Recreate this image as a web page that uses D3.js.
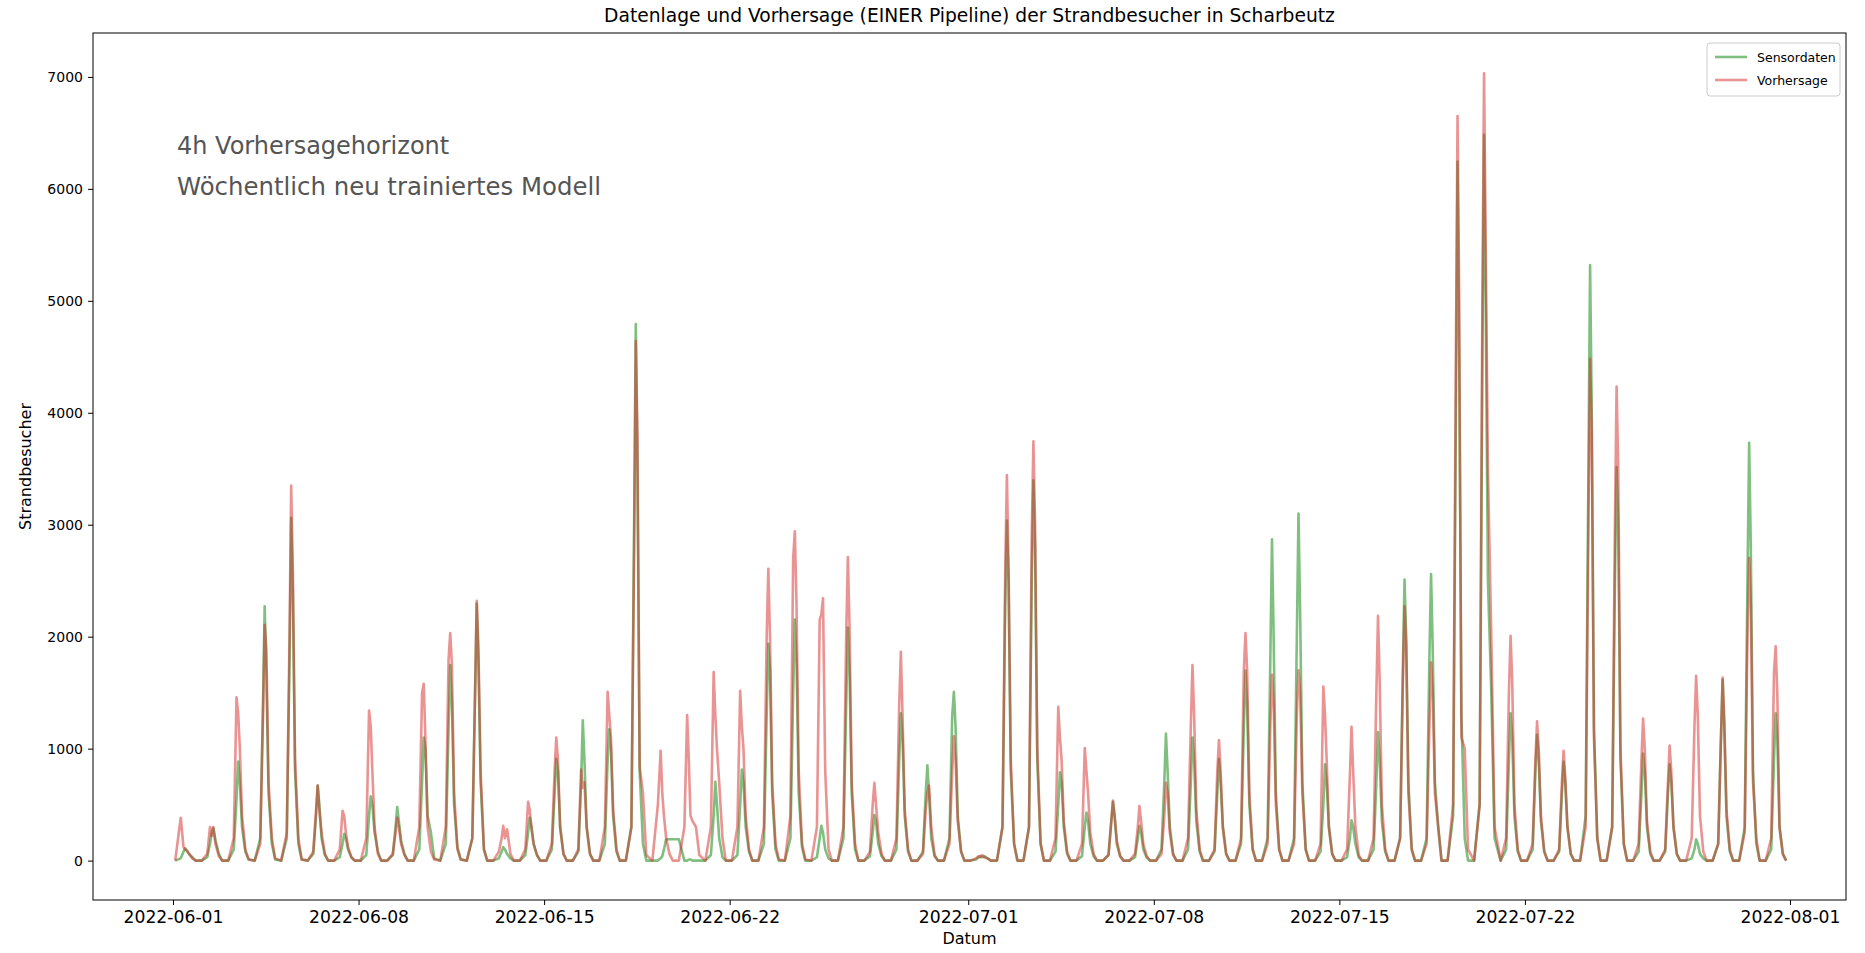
<!DOCTYPE html>
<html><head><meta charset="utf-8">
<script src="https://cdn.jsdelivr.net/npm/d3@7"></script>
<style>body{margin:0;background:#fff}svg text{font-family:"DejaVu Sans",sans-serif}</style>
</head><body><svg id="c" width="1865" height="953"></svg>
<script>
const startDate = "2022-06-01";
const hours = [2, 7, 9.5, 11, 12.5, 14.5, 17.5, 20.5];
// Sensordaten (one row per day, values at the hours above)
const sensor = [
[0,20,80,110,90,60,30,0],[0,30,150,250,290,180,60,0],[0,100,550,885,700,300,80,10],[0,200,1400,2272,1700,600,150,10],
[0,200,1800,3062,2400,800,150,10],[0,60,400,670,500,200,50,0],[0,30,150,240,200,100,30,0],[0,50,400,574,500,250,80,0],
[0,50,300,478,350,180,60,0],[0,100,700,1100,1000,400,250,20],[0,150,1200,1746,1400,500,120,10],[0,200,1500,2296,1800,700,100,0],
[0,20,80,120,100,60,20,0],[0,50,250,383,300,150,50,0],[0,100,600,909,800,300,60,0],[0,80,700,1253,900,300,60,0],
[0,150,900,1172,1000,400,80,0],[0,300,3000,4793,3500,800,150,0],[0,0,20,40,100,191,191,191],[191,0,0,10,10,0,0,0],
[0,50,400,703,500,200,30,0],[0,50,500,813,700,300,80,0],[0,150,1300,1937,1700,600,100,0],[0,200,1500,2153,1800,600,120,0],
[0,30,200,311,250,100,20,0],[0,200,1400,2081,1700,600,100,0],[0,40,250,407,350,150,40,0],[0,100,900,1316,1100,400,80,0],
[0,80,600,852,600,200,40,0],[0,200,1300,1507,1200,400,80,0],[0,10,30,40,30,40,20,0],[0,300,2300,3038,2500,800,150,0],
[0,300,2500,3397,2800,900,150,0],[0,80,500,789,700,300,60,0],[0,40,300,430,350,150,40,0],[0,50,350,526,400,150,40,0],
[0,30,200,311,250,100,30,0],[0,100,700,1134,800,300,60,0],[0,100,700,1100,900,350,80,0],[0,80,600,909,700,300,60,0],
[0,150,1200,1698,1400,500,100,0],[0,200,1800,2870,2000,600,100,0],[0,200,2000,3100,2200,700,100,0],[0,80,500,861,700,300,60,0],
[0,30,200,359,300,150,30,0],[0,100,700,1148,900,350,80,0],[0,200,1700,2511,2000,700,100,0],[0,200,1800,2560,1900,700,300,0],
[0,400,4000,6243,4500,1300,200,0],[0,500,4500,6482,5000,2500,1531,200],[0,100,900,1316,1100,400,80,0],[0,100,800,1124,900,350,80,0],
[0,80,600,885,700,300,60,0],[0,400,3500,5320,4000,1200,200,0],[0,300,2500,3516,3000,900,150,0],[0,80,600,957,800,300,60,0],
[0,80,600,861,700,300,60,0],[0,20,100,191,150,60,20,0],[0,150,1100,1617,1200,400,80,0],[0,300,2500,3732,2800,800,150,0],
[0,100,900,1316,1100,300,60,0]
];
// Vorhersage
const forecast = [
[0,383,120,100,90,60,20,0],[0,60,300,220,300,150,40,0],[0,200,1459,1316,1000,400,100,10],[0,150,1300,2105,1900,700,200,20],
[0,250,2000,3349,2600,900,200,10],[0,80,450,670,450,250,60,0],[0,100,445,400,250,120,30,0],[0,200,1340,1200,800,300,60,0],
[0,60,250,383,300,150,50,0],[0,300,1500,1579,1100,300,80,10],[0,300,1800,2033,1750,600,100,10],[0,200,1500,2320,1900,800,100,0],
[0,80,200,311,200,280,60,0],[0,100,526,450,300,150,50,0],[0,150,800,1100,900,300,60,0],[0,100,813,650,700,300,60,0],
[0,300,1507,1300,1100,450,100,0],[0,300,2800,4640,3800,837,600,50],[0,500,981,600,400,200,60,0],[0,300,1301,900,400,350,300,50],
[0,300,1684,1300,1000,700,200,0],[0,300,1517,1200,1000,400,100,0],[0,300,2000,2607,2000,700,150,10],[0,400,2700,2942,2300,800,150,10],
[0,300,2153,2200,2344,800,100,0],[0,300,2000,2712,2100,700,150,0],[0,80,500,694,500,250,60,0],[0,200,1400,1866,1300,450,100,0],
[0,60,450,598,670,300,50,0],[0,150,800,1110,900,350,80,0],[0,20,40,30,50,30,20,0],[0,300,2600,3444,2600,900,150,0],
[0,300,2900,3746,3000,1000,150,0],[0,200,1373,1100,900,350,80,0],[0,150,1005,800,600,250,60,0],[0,50,350,536,400,180,40,0],
[0,60,300,488,350,150,40,0],[0,60,400,694,600,250,50,0],[0,200,1200,1746,1300,450,100,0],[0,100,800,1076,800,300,60,0],
[0,200,1700,2033,1700,600,100,0],[0,150,1200,1660,1400,500,100,0],[0,150,1300,1700,1500,600,100,0],[0,150,1555,1300,900,300,60,0],
[0,100,750,1196,800,300,50,0],[0,200,1500,2186,1600,500,100,0],[0,200,1600,2272,1900,600,100,0],[0,150,1200,1770,1500,600,300,0],
[0,500,4500,6650,5000,1100,1000,100],[0,500,5000,7033,5500,3500,2033,300],[0,200,1500,2009,1600,500,100,0],[0,150,900,1244,1000,400,80,0],
[0,100,700,981,750,300,60,0],[0,300,3000,4483,3800,1100,200,0],[0,300,3000,4234,3500,1000,150,0],[0,150,900,1268,1000,350,80,0],
[0,100,700,1028,800,300,60,0],[0,200,1200,1650,1300,400,80,0],[0,150,1100,1636,1250,450,100,0],[0,250,2000,2703,2300,700,200,0],
[0,200,1674,1914,1500,300,60,0]
];
const yTicks = [0,1000,2000,3000,4000,5000,6000,7000];
const xTickLabels = ["2022-06-01","2022-06-08","2022-06-15","2022-06-22","2022-07-01","2022-07-08","2022-07-15","2022-07-22","2022-08-01"];
const seriesNames = ["Sensordaten","Vorhersage"];
const seriesColors = ["#008000","#d62728"];
const annotationLines = ["4h Vorhersagehorizont","Wöchentlich neu trainiertes Modell"];
const titleText = "Datenlage und Vorhersage (EINER Pipeline) der Strandbesucher in Scharbeutz";

const parse = d3.utcParse("%Y-%m-%d");
const t0 = parse(startDate);
function toPoints(rows){
  const pts=[];
  rows.forEach((vals,d)=>vals.forEach((v,i)=>pts.push({t:new Date(+d3.utcDay.offset(t0,d)+hours[i]*3600000),v})));
  return pts;
}
const svg = d3.select("#c");
const L=93,R=1846,T=33,B=900;
const x = d3.scaleUtc().domain([parse(xTickLabels[0]),parse(xTickLabels[xTickLabels.length-1])]).range([173,1790]);
const y = d3.scaleLinear().domain([0,7000]).range([860.6,76.9]);

svg.append("defs").append("clipPath").attr("id","clip").append("rect").attr("x",L).attr("y",T).attr("width",R-L).attr("height",B-T);

const line = d3.line().x(d=>x(d.t)).y(d=>y(d.v));
const g = svg.append("g").attr("clip-path","url(#clip)");
[sensor,forecast].forEach((rows,i)=>{
  g.append("path").datum(toPoints(rows)).attr("d",line).attr("fill","none")
   .attr("stroke",seriesColors[i]).attr("stroke-opacity",0.5).attr("stroke-width",2.6).attr("stroke-linejoin","round");
});

// axes
const xa = svg.append("g").attr("transform",`translate(0,${B})`)
  .call(d3.axisBottom(x).tickValues(xTickLabels.map(parse)).tickFormat(d3.utcFormat("%Y-%m-%d")).tickSize(5).tickPadding(6).tickSizeOuter(0));
const ya = svg.append("g").attr("transform",`translate(${L},0)`)
  .call(d3.axisLeft(y).tickValues(yTicks).tickFormat(d3.format("d")).tickSize(5).tickPadding(5).tickSizeOuter(0));
[xa,ya].forEach(a=>{a.select(".domain").remove();a.selectAll("text").attr("fill","#000").attr("font-family","DejaVu Sans");a.selectAll("line").attr("stroke","#000");});
xa.selectAll("text").attr("font-size",17.2);
ya.selectAll("text").attr("font-size",14);

svg.append("rect").attr("x",L).attr("y",T).attr("width",R-L).attr("height",B-T).attr("fill","none").attr("stroke","#000").attr("stroke-width",1);

svg.append("text").attr("x",(L+R)/2).attr("y",22).attr("text-anchor","middle").attr("font-size",18.7).text(titleText);
svg.append("text").attr("x",(L+R)/2).attr("y",944).attr("text-anchor","middle").attr("font-size",16).text("Datum");
svg.append("text").attr("transform",`translate(31,${(T+B)/2}) rotate(-90)`).attr("text-anchor","middle").attr("font-size",16).text("Strandbesucher");

annotationLines.forEach((s,i)=>svg.append("text").attr("x",177).attr("y",154+i*41).attr("font-family","Liberation Sans").attr("font-size",i?24.4:24).attr("fill","#555").text(s));

// legend
const lg = svg.append("g");
lg.append("rect").attr("x",1707).attr("y",43).attr("width",133).attr("height",53).attr("rx",3).attr("fill","#fff").attr("fill-opacity",0.8).attr("stroke","#ccc");
seriesNames.forEach((n,i)=>{
  const yy=57+i*23;
  lg.append("line").attr("x1",1715).attr("x2",1747).attr("y1",yy).attr("y2",yy).attr("stroke",seriesColors[i]).attr("stroke-opacity",0.5).attr("stroke-width",2.6);
  lg.append("text").attr("x",1757).attr("y",yy+5).attr("font-size",12.5).text(n);
});
</script></body></html>
